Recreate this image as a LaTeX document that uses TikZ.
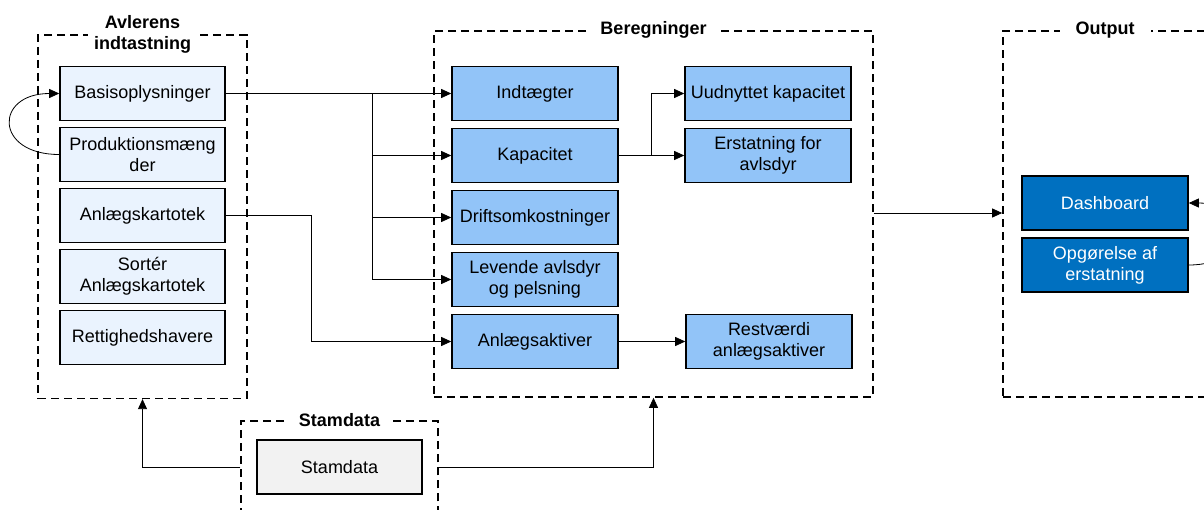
\documentclass[tikz,border=0pt]{standalone}
\usepackage{fontspec}
\setmainfont{Liberation Sans}
\usetikzlibrary{arrows.meta}
\usetikzlibrary{fit}
\definecolor{inputblue}{HTML}{EAF3FE}
\definecolor{calcblue}{HTML}{92C4F8}
\definecolor{outblue}{HTML}{0070C0}
\definecolor{stamgray}{HTML}{F2F2F2}
\tikzstyle{box} = [rectangle, text centered, align=center, draw=black, line width=1.6pt, minimum width=165pt, minimum height=54pt, inner sep=2pt]
\tikzstyle{input} = [box, fill=inputblue]
\tikzstyle{calc} = [box, fill=calcblue, minimum width=166pt]
\tikzstyle{output} = [box, fill=outblue, text=white, minimum width=166pt]
\tikzstyle{master} = [box, fill=stamgray]
\tikzstyle{group} = [draw=black, line width=1.6pt, dash pattern=on 8pt off 5pt, inner sep=0pt]
\tikzstyle{title} = [fill=white, font=\fontsize{18}{21}\selectfont\bfseries, align=center, inner xsep=12pt, inner ysep=1pt]
\tikzstyle{arrow} = [line width=0.8pt, -{Triangle[length=10pt,width=9pt]}]

\begin{document}
\begin{tikzpicture}[x=1pt, y=1pt, node distance=61pt, font=\fontsize{18}{21}\selectfont]
\path[use as bounding box, clip] (0,0) rectangle (1204,-509);

\node (basis) [input] at (142.5,-93.5) {Basisoplysninger};
\node (prod) [input, below of=basis] {Produktionsmæng\\der};
\node (anlk) [input, below of=prod] {Anlægskartotek};
\node (sort) [input, below of=anlk] {Sortér\\Anlægskartotek};
\node (rett) [input, below of=sort] {Rettighedshavere};

\node (indt) [calc] at (535,-93.5) {Indtægter};
\node (kap) [calc, below of=indt, yshift=-1pt] {Kapacitet};
\node (drift) [calc, below of=kap, yshift=-1pt] {Driftsomkostninger};
\node (lev) [calc, below of=drift, yshift=-1pt] {Levende avlsdyr\\og pelsning};
\node (anla) [calc, below of=lev, yshift=-1pt] {Anlægsaktiver};
\node (uudn) [calc, node distance=233pt, right of=indt] {Uudnyttet kapacitet};
\node (erst) [calc, below of=uudn, yshift=-1pt] {Erstatning for\\avlsdyr};
\node (restv) [calc, node distance=234pt, right of=anla] {Restværdi\\anlægsaktiver};

\node (dash) [output] at (1105,-203) {Dashboard};
\node (opg) [output, below of=dash, yshift=-1pt] {Opgørelse af\\erstatning};

\node (stam) [master] at (339.5,-467) {Stamdata};

% dashed groups
\node (avl) [group, fit={(basis)(rett)}, inner xsep=21pt, inner ysep=32pt, yshift=-1pt] {};
\node (beregn) [group, fit={(434,-31)(873,-397)}] {};
\node (out) [group, fit={(1003,-31)(1207,-397)}] {};
\node (stamgrp) [group, fit={(stam)}, inner xsep=15pt, inner ysep=18pt] {};
\node [title, inner xsep=6pt] at (avl.north) {Avlerens\\indtastning};
\node [title] at (beregn.north) {Beregninger};
\node [title, inner xsep=16pt] at (out.north) {Output};
\node [title, inner xsep=10pt] at (stamgrp.north) {Stamdata};

\coordinate (bsplit) at (372,-93.5);
\draw [arrow] (basis) -- (indt);
\draw [arrow] (bsplit) |- (kap);
\draw [arrow] (bsplit) |- (drift);
\draw [arrow] (bsplit) |- (lev);
\draw [arrow] (anlk.east) -- ++(86,0) |- (anla);
\draw [arrow] (kap.east) -- ++(33,0) |- (uudn);
\draw [arrow] (kap) -- (erst);
\draw [arrow] (anla) -- (restv);
\draw [arrow] (beregn.east |- 0,-213) -- (out.west |- 0,-213);
\draw [arrow] (stamgrp.west) -| (avl.south);
\draw [arrow] (stamgrp.east) -| (beregn.south);

\draw [arrow] (prod.west) .. controls +(-65,0) and +(-65,0) .. (basis.west);
\draw [arrow] (opg.east) .. controls +(65,0) and +(65,0) .. (dash.east);

\end{tikzpicture}
\end{document}
